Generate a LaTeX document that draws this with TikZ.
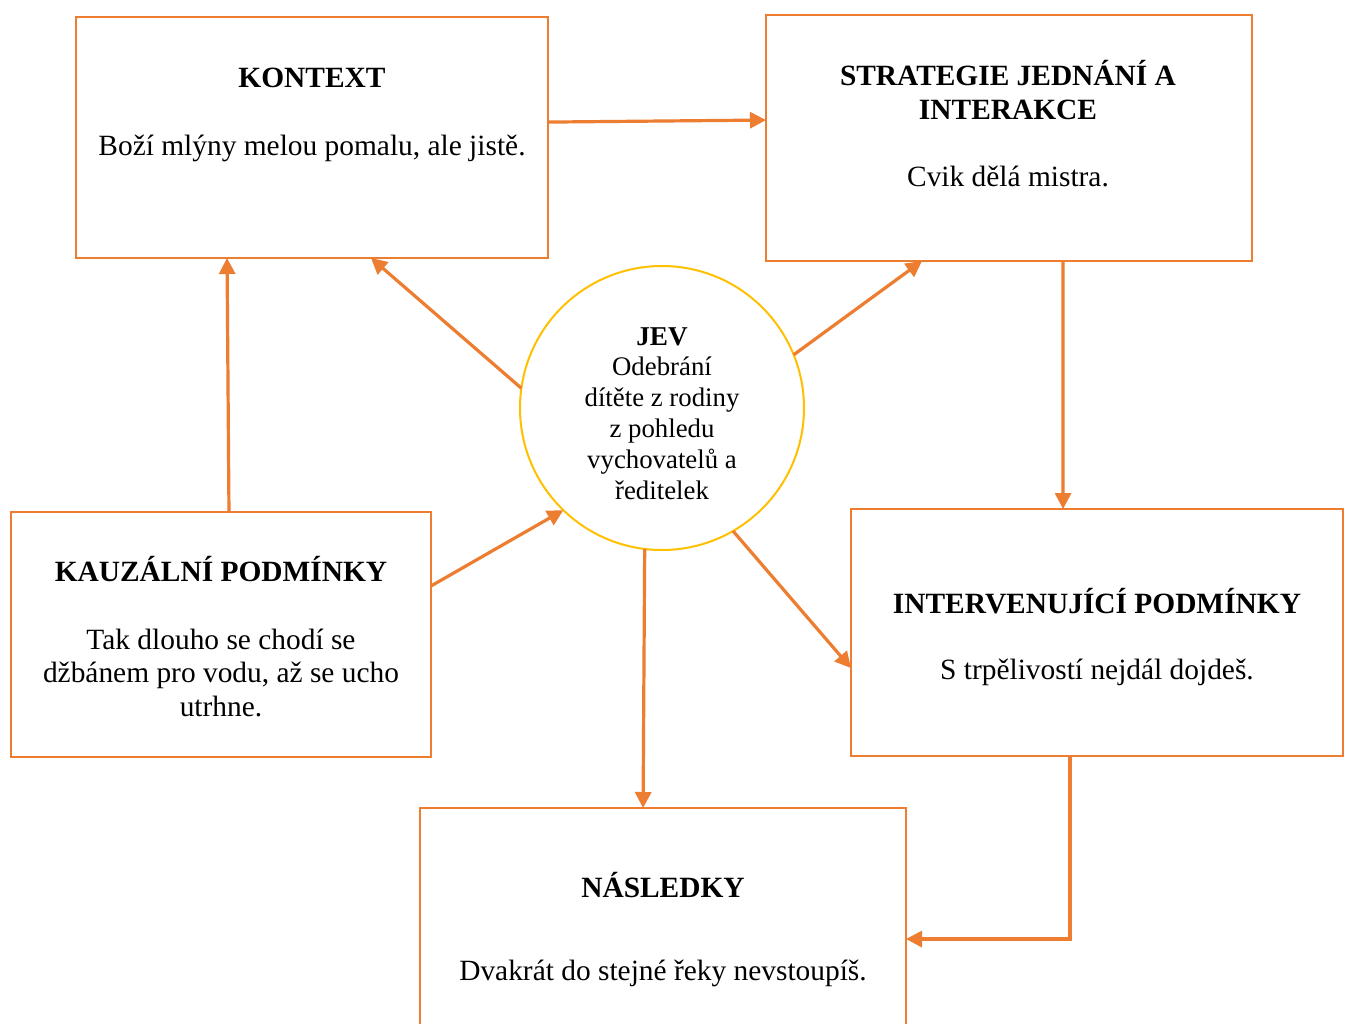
\documentclass[tikz,border=0pt]{standalone}
\usepackage{fontspec}
\setmainfont{Liberation Serif}
\usetikzlibrary{arrows.meta,calc}
\definecolor{orng}{HTML}{ED7D31}
\definecolor{gold}{HTML}{FFC000}
\tikzset{
  box/.style={draw=orng, line width=1pt, rectangle, inner sep=0pt, outer sep=0pt},
  jevc/.style={draw=gold, line width=1pt, circle, inner sep=0pt, outer sep=0pt, minimum size=142pt},
  conn/.style={draw=orng, line width=1.6pt, -{Triangle[length=8pt,width=8pt]}},
  ttl/.style={font=\fontsize{14.7}{16.75}\selectfont\bfseries, anchor=base, inner sep=0pt, align=center},
  txt/.style={font=\fontsize{14.7}{16.75}\selectfont, anchor=base, inner sep=0pt, align=center},
}
\begin{document}
\begin{tikzpicture}[x=0.5pt,y=-0.5pt]
\clip (0,0) rectangle (1349,1023);
\fill[white] (0,0) rectangle (1349,1023);
% boxes
\node[box, minimum width=236pt, minimum height=120.5pt] (kontext) at (312,137.5) {};
\node[box, minimum width=243pt, minimum height=123pt] (strat) at (1009,138) {};
\node[box, minimum width=210pt, minimum height=122.5pt] (kauz) at (221,634.5) {};
\node[box, minimum width=246pt, minimum height=123.5pt] (interv) at (1097,632.5) {};
\node[box, minimum width=243pt, minimum height=126pt] (nasl) at (663,934) {};
\node[jevc] (jev) at (662,408) {};
% texts (base = baseline of last line)
\node[ttl] (t1) at (312,87) {KONTEXT};
\node[txt] (b1) at (312,155) {Boží mlýny melou pomalu, ale jistě.};
\node[ttl] (t2) at (1008,119) {STRATEGIE JEDNÁNÍ A\\INTERAKCE};
\node[txt] (b2) at (1008,186) {Cvik dělá mistra.};
\node[ttl] (t3) at (221,581) {KAUZÁLNÍ PODMÍNKY};
\node[txt] (b3) at (221,716) {Tak dlouho se chodí se\\džbánem pro vodu, až se ucho\\utrhne.};
\node[ttl] (t4) at (1097,613) {INTERVENUJÍCÍ PODMÍNKY};
\node[txt] (b4) at (1097,679) {S trpělivostí nejdál dojdeš.};
\node[ttl] (t5) at (663,897) {NÁSLEDKY};
\node[txt] (b5) at (663,980) {Dvakrát do stejné řeky nevstoupíš.};
\node[ttl, font=\fontsize{13.6}{15.5}\selectfont\bfseries] (t6) at (662,345) {JEV};
\node[txt, font=\fontsize{13.4}{15.5}\selectfont] (b6) at (662,499) {Odebrání\\dítěte z rodiny\\z pohledu\\vychovatelů a\\ředitelek};
% connectors
\draw[conn] ($(kontext.north east)!0.436!(kontext.south east)$) -- ($(strat.north west)!0.427!(strat.south west)$);
\draw[conn] (jev.172) -- ($(kontext.south west)!0.625!(kontext.south east)$);
\draw[conn] (jev.22) -- ($(strat.south west)!0.321!(strat.south east)$);
\draw[conn] ($(kauz.north west)!0.519!(kauz.north east)$) -- ($(kontext.south west)!0.320!(kontext.south east)$);
\draw[conn] ($(kauz.north east)!0.302!(kauz.south east)$) -- (jev.226);
\draw[conn] (jev.263) -- ($(nasl.north west)!0.459!(nasl.north east)$);
\draw[conn] (jev.300.6) -- ($(interv.north west)!0.644!(interv.south west)$);
\draw[conn] ($(strat.south west)!0.611!(strat.south east)$) -- ($(interv.north west)!0.431!(interv.north east)$);
\draw[conn] ($(interv.south west)!0.445!(interv.south east)$) |- ($(nasl.north east)!0.52!(nasl.south east)$);
\end{tikzpicture}
\end{document}
